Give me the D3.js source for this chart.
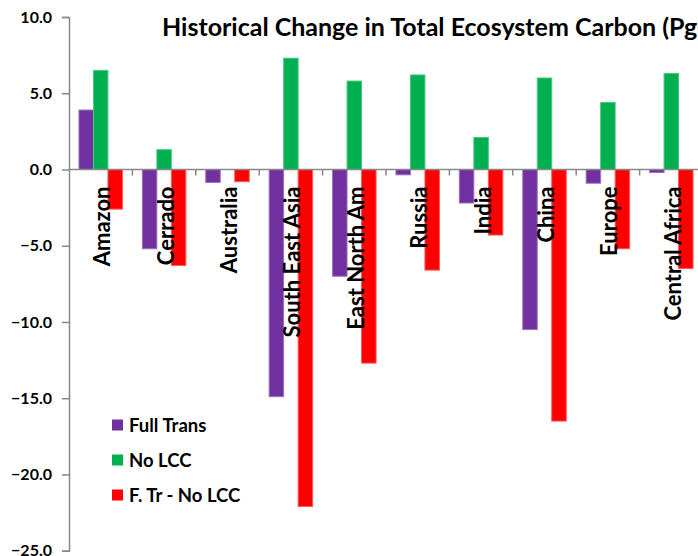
<!DOCTYPE html>
<html>
<head>
<meta charset="utf-8">
<script src="https://cdnjs.cloudflare.com/ajax/libs/d3/7.8.5/d3.min.js"></script>
<style>
    body { margin: 0; background: #fff; }
    svg { display: block; font-family: Lato, "Open Sans", sans-serif; font-weight: bold; }
</style>
</head>
<body>
<script>
(function() {

    var regions = ["Amazon", "Cerrado", "Australia", "South East Asia", "East North Am", "Russia", "India", "China", "Europe", "Central Africa"];
    var seriesNames = ["Full Trans", "No LCC", "F. Tr - No LCC"];
    var fullTrans = [3.9, -5.2, -0.85, -14.9, -7.0, -0.35, -2.2, -10.5, -0.9, -0.2];
    var noLcc = [6.5, 1.3, 0, 7.3, 5.8, 6.2, 2.1, 6.0, 4.4, 6.3];
    var ftMinusNoLcc = [-2.6, -6.3, -0.8, -22.1, -12.7, -6.6, -4.3, -16.5, -5.2, -6.5];
    var yTicks = [10, 5, 0, -5, -10, -15, -20, -25];
    var colors = ["#7030A0", "#00B050", "#FF0000"];
    var strokes = ["#9b74bd", "#4cc984", "#ff5a5a"];

    var width = 698,
        height = 556,
        left = 69,
        right = 703,
        top = 17,
        bottom = 550.7;

    var svg = d3.select("body")
        .append("svg")
        .attr("width", width)
        .attr("height", height);

    var yScale = d3.scaleLinear()
        .domain([-25, 10])
        .range([bottom, top]);

    var x0 = d3.scaleBand()
        .domain(regions)
        .range([left, right])
        .paddingInner(0.314)
        .paddingOuter(0.157);

    var x1 = d3.scaleBand()
        .domain(seriesNames)
        .range([0, x0.bandwidth()]);

    var allSeries = [fullTrans, noLcc, ftMinusNoLcc];
    var rows = [];
    regions.forEach(function(r, i) {
        seriesNames.forEach(function(s, j) {
            rows.push({region: r, series: s, idx: j, value: allSeries[j][i]});
        });
    });

    // y axis
    var yAxis = d3.axisLeft(yScale)
        .tickValues(yTicks)
        .tickSize(7)
        .tickPadding(10)
        .tickFormat(d3.format(".1f"));

    var yG = svg.append("g")
        .attr("transform", "translate(" + left + ",0)")
        .call(yAxis);
    yG.select(".domain").attr("stroke", "#888").attr("stroke-width", 1.5);
    yG.selectAll(".tick line").attr("stroke", "#888").attr("stroke-width", 1.5);
    yG.selectAll(".tick text")
        .attr("fill", "#000")
        .style("font-size", "16px")
        .style("font-weight", "bold")
        .style("font-family", "Lato, sans-serif");

    // bars
    svg.selectAll(".bars")
        .data(rows)
        .enter()
        .append("rect")
        .attr("class", "bars")
        .attr("x", function(d) { return x0(d.region) + x1(d.series); })
        .attr("width", x1.bandwidth())
        .attr("y", function(d) { return yScale(Math.max(0, d.value)); })
        .attr("height", function(d) { return Math.abs(yScale(d.value) - yScale(0)); })
        .style("fill", function(d) { return colors[d.idx]; })
        .style("stroke", function(d) { return d.value === 0 ? "none" : strokes[d.idx]; })
        .style("stroke-width", 1);

    // x axis line at zero with ticks between categories
    var y0 = yScale(0);
    svg.append("line")
        .attr("x1", left).attr("x2", right)
        .attr("y1", y0).attr("y2", y0)
        .attr("stroke", "#888").attr("stroke-width", 1.5);

    var step = x0.step();
    svg.selectAll(".xtick")
        .data(regions.slice(1))
        .enter()
        .append("line")
        .attr("class", "xtick")
        .attr("x1", function(d) { return x0(d) - x0.paddingInner() * step / 2; })
        .attr("x2", function(d) { return x0(d) - x0.paddingInner() * step / 2; })
        .attr("y1", y0).attr("y2", y0 + 6)
        .attr("stroke", "#888").attr("stroke-width", 1.5);

    // category labels
    svg.selectAll(".catLabel")
        .data(regions)
        .enter()
        .append("text")
        .attr("class", "catLabel")
        .attr("transform", function(d) {
            return "translate(" + (x0(d) + x0.bandwidth() / 2 + 1) + "," + (y0 + 17) + ") rotate(-90)";
        })
        .attr("text-anchor", "end")
        .attr("dominant-baseline", "central")
        .style("font-size", "22px")
        .attr("fill", "#000")
        .text(function(d) { return d; });

    // title
    svg.append("text")
        .attr("x", 162)
        .attr("y", 36)
        .style("font-size", "25px")
        .attr("fill", "#000")
        .text("Historical Change in Total Ecosystem Carbon (PgC)");

    // legend
    var legend = svg.selectAll(".legend")
        .data(seriesNames)
        .enter()
        .append("g")
        .attr("class", "legend")
        .attr("transform", function(d, i) { return "translate(112," + (425 + i * 35) + ")"; });

    legend.append("rect")
        .attr("x", 0).attr("y", -5.5)
        .attr("width", 11).attr("height", 11)
        .style("fill", function(d, i) { return colors[i]; });

    legend.append("text")
        .attr("x", 17)
        .attr("y", 0)
        .attr("dominant-baseline", "central")
        .style("font-size", "18.5px")
        .attr("fill", "#000")
        .text(function(d) { return d; });

})();
</script>
</body>
</html>
